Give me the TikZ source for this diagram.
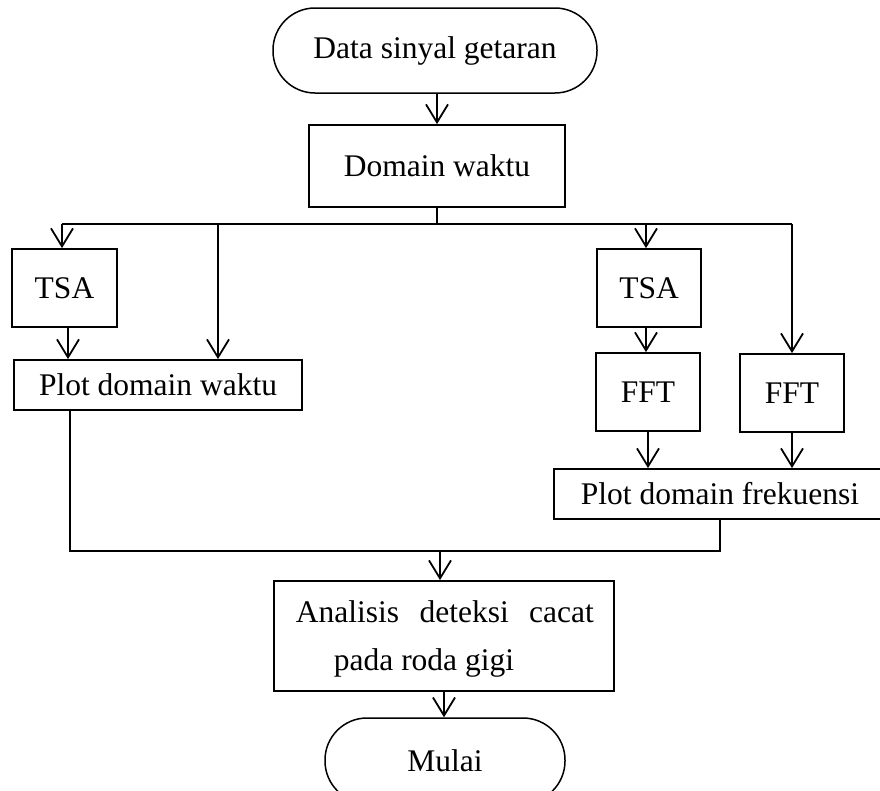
\documentclass[tikz,border=0pt]{standalone}
\usepackage{fontspec}
\setmainfont{Liberation Serif}
\usetikzlibrary{arrows.meta}
\begin{document}
\begin{tikzpicture}[x=1pt,y=-1pt, line width=1.8pt,
  box/.style={draw, rectangle, inner sep=0pt, line width=1.8pt},
  term/.style={draw, rectangle, rounded corners=42pt, inner sep=0pt, line width=1.5pt, minimum height=85pt},
  lbl/.style={inner sep=0pt, anchor=base west},
  arr/.style={-{Straight Barb[length=18pt,width=22pt]}},
  font=\fontsize{31.5}{38}\selectfont]
\clip (0,0) rectangle (880,790);
\fill[white] (0,0) rectangle (880,790);
% nodes
\node[term, minimum width=324pt] (start) at (435,50.5) {Data sinyal getaran};
\node[box, minimum width=256pt, minimum height=82pt] (dom) at (437,166) {Domain waktu};
\node[box, minimum width=105pt, minimum height=78pt] (tsa1) at (64.5,288) {TSA};
\node[box, minimum width=288pt, minimum height=50pt] (pdw) at (158,385) {Plot domain waktu};
\node[box, minimum width=104pt, minimum height=78pt] (tsa2) at (649,288) {TSA};
\node[box, minimum width=104pt, minimum height=78pt] (fft1) at (648,392) {FFT};
\node[box, minimum width=104pt, minimum height=78pt] (fft2) at (792,393) {FFT};
\node[box, minimum width=332pt, minimum height=50pt] (pdf) at (720,494) {Plot domain frekuensi};
\node[box, minimum width=340pt, minimum height=110pt] (ana) at (444,636) {};
\node[lbl] (ana1) at (295,622) {\makebox[298pt][s]{Analisis deteksi cacat}};
\node[lbl] (ana2) at (333,670) {pada roda gigi};
\node[term, minimum width=240pt] (end) at (445,760.5) {Mulai};
% junctions
\coordinate (jTop) at (437,224);
\coordinate (hL) at (62,224);
\coordinate (hM) at (218,224);
\coordinate (hT) at (646,224);
\coordinate (hR) at (792,224);
\coordinate (bL) at (70,551);
\coordinate (bM) at (440,551);
\coordinate (bR) at (720,551);
\path (tsa1.south) ++(3.5,0) coordinate (t1s);
% connectors
\draw[arr] (start.south -| dom.north) -- (dom.north);
\draw (dom.south) -- (jTop);
\draw (hL) -- (hR);
\draw[arr] (hL) -- (hL |- tsa1.north);
\draw[arr] (hM) -- (hM |- pdw.north);
\draw[arr] (hT) -- (hT |- tsa2.north);
\draw[arr] (hR) -- (hR |- fft2.north);
\draw[arr] (t1s) -- (t1s |- pdw.north);
\draw[arr] (tsa2.south -| hT) -- (fft1.north -| hT);
\draw[arr] (fft1.south) -- (fft1.south |- pdf.north);
\draw[arr] (fft2.south) -- (fft2.south |- pdf.north);
\draw (pdw.south -| bL) -- (bL) -- (bR) -- (pdf.south);
\draw[arr] (bM) -- (bM |- ana.north);
\draw[arr] (ana.south) -- (ana.south |- end.north);
\end{tikzpicture}
\end{document}
